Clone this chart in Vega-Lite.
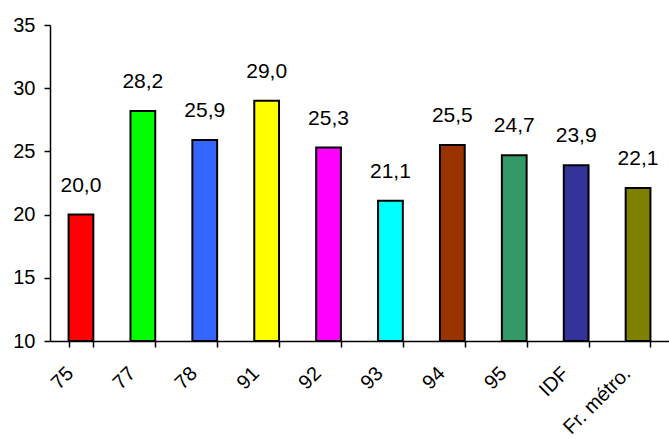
{
  "$schema": "https://vega.github.io/schema/vega-lite/v6.json",
  "width": 619,
  "height": 316,
  "autosize": {"type": "none"},
  "padding": {"left": 50, "top": 25, "right": 0, "bottom": 98},
  "background": "white",
  "config": {
    "view": {"stroke": null},
    "font": "Liberation Sans",
    "locale": {"number": {"decimal": ",", "thousands": " ", "grouping": [3], "currency": ["", " €"]}},
    "axis": {"labelColor": "black", "domainColor": "black", "tickColor": "black", "labelFont": "Liberation Sans", "labelFontSize": 20, "grid": false, "title": null}
  },
  "data": {"values": [
    {"zone": "75", "value": 20.0},
    {"zone": "77", "value": 28.2},
    {"zone": "78", "value": 25.9},
    {"zone": "91", "value": 29.0},
    {"zone": "92", "value": 25.3},
    {"zone": "93", "value": 21.1},
    {"zone": "94", "value": 25.5},
    {"zone": "95", "value": 24.7},
    {"zone": "IDF", "value": 23.9},
    {"zone": "Fr. métro.", "value": 22.1}
  ]},
  "encoding": {
    "x": {"field": "zone", "type": "nominal", "sort": null,
      "scale": {"paddingInner": 0.6, "paddingOuter": 0.3},
      "axis": {"labelAngle": -45, "labelAlign": "right", "labelBaseline": "middle", "labelPadding": 23, "labelOffset": -11, "tickBand": "extent", "tickSize": 6, "domainWidth": 1.5, "tickWidth": 1.5}}
  },
  "layer": [
    {
      "mark": {"type": "bar", "stroke": "black", "strokeWidth": 2},
      "encoding": {
        "y": {"field": "value", "type": "quantitative",
          "scale": {"domain": [10, 35], "zero": false, "nice": false},
          "axis": {"values": [10, 15, 20, 25, 30, 35], "tickSize": 6, "labelPadding": 9, "domainWidth": 1.5, "tickWidth": 1.5}},
        "y2": {"datum": 10},
        "color": {"field": "zone", "type": "nominal", "sort": null, "legend": null,
          "scale": {"domain": ["75", "77", "78", "91", "92", "93", "94", "95", "IDF", "Fr. métro."],
            "range": ["#FF0000", "#00FF00", "#3366FF", "#FFFF00", "#FF00FF", "#00FFFF", "#993300", "#339966", "#333399", "#808000"]}}
      }
    },
    {
      "mark": {"type": "text", "baseline": "alphabetic", "dy": -23, "fontSize": 21, "font": "Liberation Sans", "color": "black"},
      "encoding": {
        "y": {"field": "value", "type": "quantitative"},
        "text": {"field": "value", "type": "quantitative", "format": ".1f"}
      }
    }
  ]
}
